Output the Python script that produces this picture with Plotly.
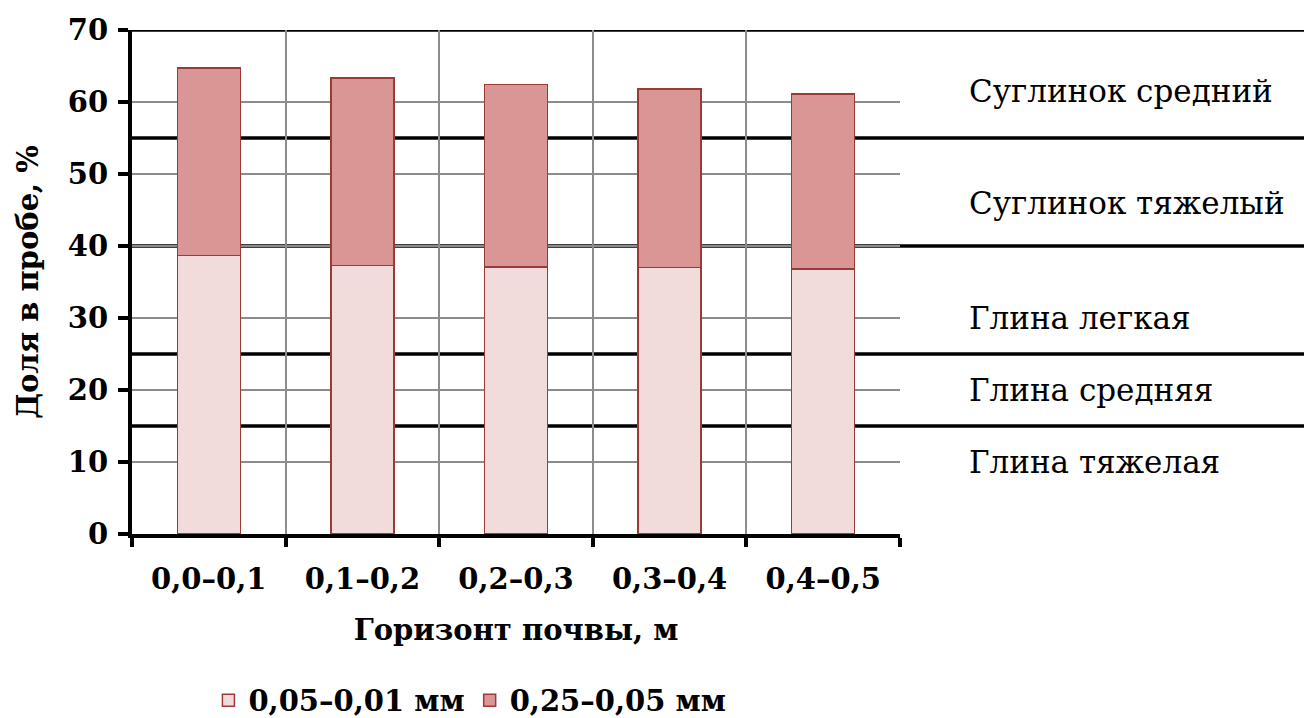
import plotly.graph_objects as go

# Soil horizons and particle-size fractions
horizons = ["0,0–0,1", "0,1–0,2", "0,2–0,3", "0,3–0,4", "0,4–0,5"]
fine_fraction = [38.7, 37.3, 37.1, 37.0, 36.8]      # 0,05–0,01 мм
coarse_fraction = [26.0, 26.0, 25.3, 24.8, 24.3]    # 0,25–0,05 мм
y_ticks = [0, 10, 20, 30, 40, 50, 60, 70]

# Texture class boundaries and labels
class_bounds = [15, 25, 40, 55, 70]
class_labels = ["Глина тяжелая", "Глина средняя", "Глина легкая",
                "Суглинок тяжелый", "Суглинок средний"]
class_label_y = [10, 20, 30, 46, 61.5]

LABEL_FONT = dict(family="DejaVu Serif", size=31, color="black")
BOLD_FONT = dict(family="DejaVu Serif", size=29, color="black")
x = list(range(len(horizons)))

fig = go.Figure()
fig.add_trace(go.Bar(
    x=x, y=fine_fraction, name="<b>0,05–0,01 мм</b>",
    marker=dict(color="#F2DCDB", line=dict(color="#9B3A38", width=1.5)),
    width=0.41,
))
fig.add_trace(go.Bar(
    x=x, y=coarse_fraction, name="<b>0,25–0,05 мм</b>",
    marker=dict(color="#D99694", line=dict(color="#9B3A38", width=1.5)),
    width=0.41,
))

# Thick class-boundary lines running through the label column
for b in class_bounds:
    fig.add_shape(type="line", xref="paper", yref="y", x0=0, x1=1.6, y0=b, y1=b,
                  line=dict(color="black", width=3.5), layer="below")

for lbl, yy in zip(class_labels, class_label_y):
    fig.add_annotation(text=lbl, xref="paper", yref="y", x=1.087, y=yy,
                       xanchor="left", yanchor="middle", showarrow=False,
                       font=LABEL_FONT)

fig.update_layout(
    barmode="stack",
    width=1304, height=718,
    margin=dict(l=132, r=404, t=30, b=184, autoexpand=False),
    plot_bgcolor="white", paper_bgcolor="white",
    legend=dict(orientation="h", x=0.44, xanchor="center", y=-0.33, yanchor="middle",
                font=BOLD_FONT, itemwidth=30, traceorder="normal"),
    showlegend=True,
)

fig.update_xaxes(
    range=[-0.5, 4.5], tickvals=x, ticktext=[f"<b>{h}</b>" for h in horizons],
    ticks="", showgrid=False, ticklabelstandoff=16,
    tickfont=BOLD_FONT,
    showline=True, linecolor="black", linewidth=4,
    minor=dict(tickvals=[-0.5, 0.5, 1.5, 2.5, 3.5, 4.5], showgrid=True,
               gridcolor="#8C8C8C", gridwidth=1.5, ticks="outside", ticklen=9,
               tickwidth=4, tickcolor="black"),
    title=dict(text="<b>Горизонт почвы, м</b>", font=BOLD_FONT, standoff=26),
    zeroline=False,
)
fig.update_yaxes(
    range=[0, 70], tickvals=y_ticks, ticktext=[f"<b>{v}</b>" for v in y_ticks],
    ticks="outside", ticklen=10, tickwidth=4, tickcolor="black",
    showgrid=True, gridcolor="#8C8C8C", gridwidth=1.5,
    tickfont=BOLD_FONT, ticklabelstandoff=4,
    showline=True, linecolor="black", linewidth=4, zeroline=False,
    title=dict(text="<b>Доля в пробе, %</b>", font=BOLD_FONT, standoff=22),
)

fig.write_html("out.html")
